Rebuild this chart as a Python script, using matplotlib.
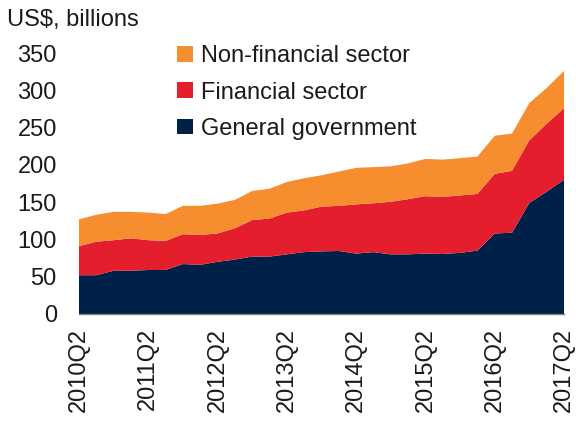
import matplotlib
matplotlib.use("Agg")
import matplotlib.pyplot as plt
import numpy as np

quarters = [f"{y}Q{q}" for y in range(2010, 2018) for q in range(1, 5)][1:30]
general_government = [52, 52, 58, 58, 59, 59, 67, 66, 70, 73, 77, 77, 80, 83, 84, 84.5,
                      81, 83, 80, 80, 81, 80.5, 82, 85, 108, 109, 149, 164, 180]
financial_sector = [39, 45, 41, 43.5, 40, 39, 40, 40, 38, 42, 49, 51, 56, 56, 60, 60.5,
                    66, 65.5, 70.5, 74, 77, 76.5, 77, 76, 80, 83, 84, 91, 96]
non_financial_sector = [36, 36, 38, 35.5, 37, 36, 38, 39, 40, 38, 39, 40, 41, 43, 42, 46,
                        49, 48.5, 47.5, 48, 50, 50, 50, 50, 51, 50, 50, 48, 50]
series_names = ["General government", "Financial sector", "Non-financial sector"]
colors = ["#002147", "#E41E2D", "#F68D2E"]
tick_labels = quarters[::4]

plt.rcParams['font.family'] = ['Liberation Sans', 'DejaVu Sans']
FS = 17

fig = plt.figure(figsize=(5.76, 4.23), dpi=100)
ax = fig.add_axes([79/576, 1 - 314/423, (564-79)/576, (314-53)/423])

x = np.arange(len(quarters))
ax.stackplot(x, general_government, financial_sector, non_financial_sector,
             colors=colors, labels=series_names, linewidth=0)

ax.set_xlim(0, len(quarters) - 1)
ax.set_ylim(0, 350)
ax.set_yticks(range(0, 351, 50))
ax.set_xticks(x[::4])
ax.set_xticklabels(tick_labels, rotation=90)
ax.tick_params(axis='both', length=0, labelsize=FS, colors='#1a1a1a')
ax.tick_params(axis='y', pad=16)
ax.tick_params(axis='x', pad=10)
for s in ['top', 'right', 'left']:
    ax.spines[s].set_visible(False)
ax.spines['bottom'].set_color('#7f7f7f')
ax.spines['bottom'].set_linewidth(1.0)

fig.text(7/576, 1 - 20/423, "US$, billions", fontsize=FS, va='center', ha='left', color='#1a1a1a')

handles, labels = ax.get_legend_handles_labels()
leg = ax.legend(handles[::-1], labels[::-1], loc='upper left',
                bbox_to_anchor=(0.183, 1.065), frameon=False, fontsize=FS,
                handlelength=0.65, handleheight=0.65, handletextpad=0.35,
                labelspacing=0.6, borderaxespad=0)
for t in leg.get_texts():
    t.set_color('#1a1a1a')

fig.savefig("out.png", dpi=100)
